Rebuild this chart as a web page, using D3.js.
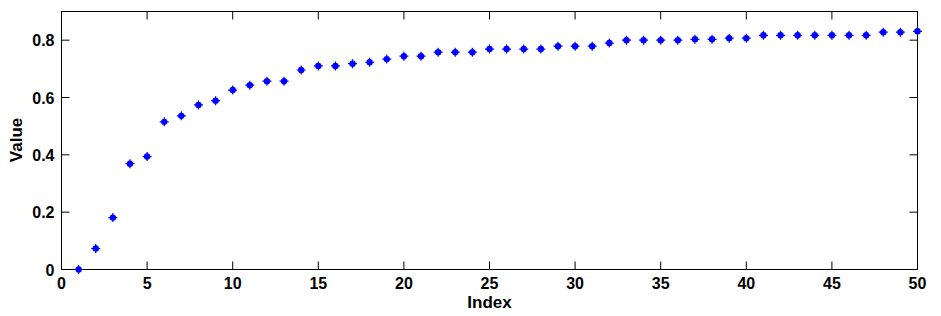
<!DOCTYPE html>
<html lang="en">
<head>
    <meta charset="UTF-8">
    <title>Value vs Index</title>
    <script type="text/javascript" src="https://d3js.org/d3.v7.min.js"></script>
    <style>
        body { margin: 0; background: #fff; }
        text { font-family: "Liberation Sans", Arial, sans-serif; font-weight: bold; }
    </style>
</head>
<body>

    <svg id="svg" width=941 height=316></svg>

    <script>
        // data
        let indices = d3.range(1, 51);
        let values = [
            0, 0.073, 0.181, 0.369, 0.394, 0.515, 0.536, 0.574, 0.589, 0.626,
            0.643, 0.657, 0.657, 0.696, 0.710, 0.710, 0.718, 0.723, 0.734, 0.744,
            0.744, 0.758, 0.758, 0.758, 0.769, 0.769, 0.769, 0.769, 0.779, 0.779,
            0.779, 0.790, 0.800, 0.800, 0.800, 0.800, 0.803, 0.803, 0.807, 0.807,
            0.817, 0.817, 0.817, 0.817, 0.817, 0.817, 0.817, 0.828, 0.828, 0.831
        ];
        let xTicks = [0, 5, 10, 15, 20, 25, 30, 35, 40, 45, 50];
        let yTicks = [0, 0.2, 0.4, 0.6, 0.8];

        let svg = d3.select('svg');
        let mLeft = 61.5, mRight = 917.5, mTop = 11.5, mBottom = 269.5;

        let x = d3.scaleLinear().domain([0, 50]).range([mLeft, mRight]);
        let y = d3.scaleLinear().domain([0, 0.9]).range([mBottom, mTop]);

        let plot = svg.append('g');

        plot.append('rect')
            .attr('x', mLeft)
            .attr('y', mTop)
            .attr('width', mRight - mLeft)
            .attr('height', mBottom - mTop)
            .attr('fill', 'white')
            .attr('stroke', 'black')
            .attr('stroke-width', 1);

        // ticks pointing inward on all four sides
        let tickLen = 8;
        plot.selectAll('.xt')
            .data(xTicks)
            .enter()
            .append('path')
            .attr('d', d => `M${x(d)},${mBottom}v${-tickLen}M${x(d)},${mTop}v${tickLen}`)
            .attr('stroke', 'black');

        plot.selectAll('.yt')
            .data(yTicks)
            .enter()
            .append('path')
            .attr('d', d => `M${mLeft},${y(d)}h${tickLen}M${mRight},${y(d)}h${-tickLen}`)
            .attr('stroke', 'black');

        plot.selectAll('.xl')
            .data(xTicks)
            .enter()
            .append('text')
            .attr('x', d => x(d))
            .attr('y', mBottom + 19)
            .attr('text-anchor', 'middle')
            .style('font-size', '16px')
            .text(d => d);

        plot.selectAll('.yl')
            .data(yTicks)
            .enter()
            .append('text')
            .attr('x', mLeft - 7)
            .attr('y', d => y(d) + 6)
            .attr('text-anchor', 'end')
            .style('font-size', '16px')
            .text(d => d === 0 ? '0' : d.toFixed(1));

        svg.append('text')
            .attr('x', (mLeft + mRight) / 2)
            .attr('y', 308)
            .attr('text-anchor', 'middle')
            .style('font-size', '17px')
            .text('Index');

        svg.append('text')
            .attr('transform', 'translate(22,140) rotate(-90)')
            .attr('text-anchor', 'middle')
            .style('font-size', '17px')
            .text('Value');

        // markers
        let pts = plot.selectAll('.pt')
            .data(indices.map((d, i) => ({ i: d, v: values[i] })))
            .enter()
            .append('g')
            .attr('transform', d => `translate(${x(d.i)},${y(d.v)})`);

        pts.append('circle')
            .attr('r', 3.2)
            .attr('fill', 'blue');

        pts.append('path')
            .attr('d', 'M-4.5,0H4.5M0,-4.5V4.5')
            .attr('stroke', 'blue')
            .attr('stroke-width', 1.2);
    </script>

</body>
</html>
